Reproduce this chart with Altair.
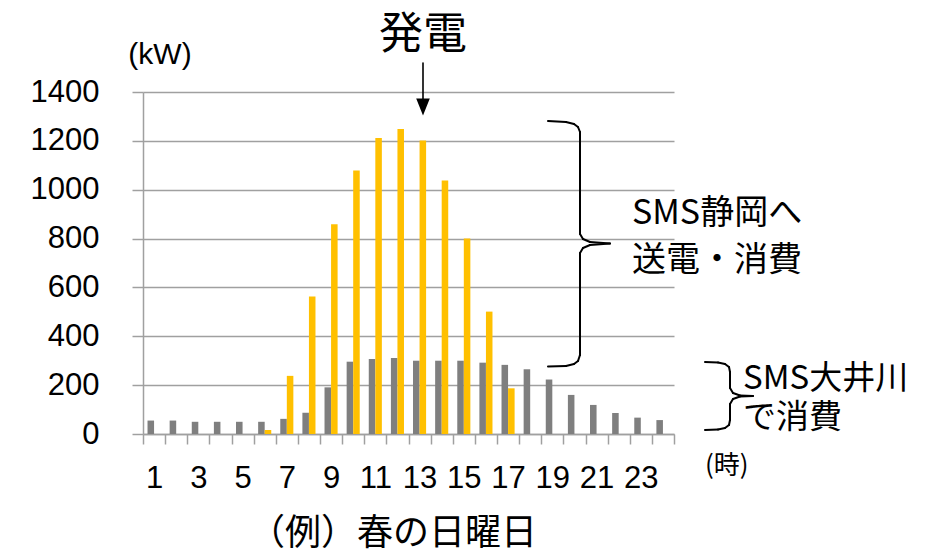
import altair as alt
import pandas as pd

# ---- data ----
hours = list(range(1, 25))
oigawa_kw = [55, 55, 50, 50, 50, 50, 62, 87, 191, 296, 307, 311, 300, 300, 300, 292, 283, 265, 223, 160, 119, 86, 67, 57]
generation_kw = [0, 0, 0, 0, 0, 16, 238, 563, 859, 1079, 1212, 1249, 1201, 1038, 800, 501, 187, 0, 0, 0, 0, 0, 0, 0]
series_names = ["SMS大井川で消費", "発電"]
series_colors = ["#7F7F7F", "#FFC000"]
y_ticks = [0, 200, 400, 600, 800, 1000, 1200, 1400]

unit_label = "(kW)"
gen_label = "発電"
brace1_lines = ["SMS静岡へ", "送電・消費"]
brace2_lines = ["SMS大井川", "で消費"]
hour_unit = "(時)"
caption = "（例）春の日曜日"

rows = []
for h, c, g in zip(hours, oigawa_kw, generation_kw):
    rows.append({"hour": h, "series": series_names[0], "kw": c})
    rows.append({"hour": h, "series": series_names[1], "kw": g})
df = pd.DataFrame(rows)

# plot origin in page pixels (for annotations)
OX, OY = 143, 92
W, H = 531, 342
GRID = "#a0a0a0"

bars = alt.Chart(df).mark_bar().encode(
    x=alt.X("hour:O", sort=hours,
            scale=alt.Scale(paddingInner=0, paddingOuter=0),
            axis=alt.Axis(title=None, labelAngle=0, labelFontSize=31, labelFont="Liberation Sans",
                          labelColor="black", labelPadding=19, tickSize=10, tickBand="extent",
                          tickColor=GRID, tickWidth=1.5, domainColor=GRID, domainWidth=1.5,
                          labelOverlap=False, grid=False,
                          labelExpr="datum.value % 2 == 1 ? datum.label : ''")),
    xOffset=alt.XOffset("series:N", sort=series_names,
                        scale=alt.Scale(domain=series_names, paddingInner=0, paddingOuter=0.69)),
    y=alt.Y("kw:Q", scale=alt.Scale(domain=[0, 1400], nice=False),
            axis=alt.Axis(title=None, values=y_ticks, format="d", labelFontSize=31,
                          labelFont="Liberation Sans",
                          labelColor="black", labelPadding=33, tickSize=11, tickColor=GRID,
                          tickWidth=1.5, domainColor=GRID, domainWidth=1.5, grid=True,
                          gridColor=GRID, gridWidth=1.5)),
    color=alt.Color("series:N", scale=alt.Scale(domain=series_names, range=series_colors), legend=None),
)

anchor = pd.DataFrame({"a": [0]})


def text_layer(txt, x, y, size, font="Noto Sans CJK JP", align="center"):
    return alt.Chart(pd.DataFrame({"t": [txt]})).mark_text(
        font=font, fontSize=size, align=align, baseline="middle", color="black"
    ).encode(x=alt.value(x - OX), y=alt.value(y - OY), text="t:N")


def polyline(points, width=2.0):
    out = []
    for (x1, y1), (x2, y2) in zip(points[:-1], points[1:]):
        out.append(alt.Chart(anchor).mark_rule(color="black", strokeWidth=width, strokeCap="round").encode(
            x=alt.value(x1 - OX), y=alt.value(y1 - OY), x2=alt.value(x2 - OX), y2=alt.value(y2 - OY)))
    return out


layers = [bars]
layers.append(text_layer(unit_label, 160, 55, 30, font="Liberation Sans"))
layers.append(text_layer(gen_label, 423, 36, 44))
layers.append(text_layer(brace1_lines[0], 632, 214, 34, align="left"))
layers.append(text_layer(brace1_lines[1], 632, 261, 34, align="left"))
layers.append(text_layer(brace2_lines[0], 743, 379, 33, align="left"))
layers.append(text_layer(brace2_lines[1], 743, 418, 33, align="left"))
layers.append(text_layer(hour_unit, 705, 466, 26, align="left"))
layers.append(text_layer(caption, 393, 534, 36))

# arrow
layers += polyline([(423, 63), (423, 100)], width=1.6)
layers.append(alt.Chart(anchor).mark_point(
    shape="M-0.8,-1L0.8,-1L0,1Z", filled=True, color="black", opacity=1, size=289
).encode(x=alt.value(423 - OX), y=alt.value(107 - OY)))

# big brace
big = [(548, 121), (566, 122), (574, 124), (578, 127), (580, 132), (580, 234), (583, 239),
       (590, 242), (610, 243.5), (590, 245), (583, 248), (580, 253), (580, 355), (578, 361),
       (574, 364), (566, 366), (548, 366.5)]
layers += polyline(big)
# small brace
small = [(705, 362), (718, 362.5), (725, 364), (729, 367), (730, 372), (730, 388), (733, 393),
         (740, 395.5), (753, 396), (740, 396.5), (733, 399), (730, 404), (730, 420), (729, 425),
         (725, 428), (718, 429.5), (705, 430)]
layers += polyline(small)

chart = alt.layer(*layers).properties(
    width=W, height=H,
    autosize=alt.AutoSizeParams(type="none"),
    padding={"left": OX - 8, "top": OY - 8, "right": 255, "bottom": 117},
    background="white",
).configure_view(stroke=None)

chart.save("out.html", embed_options={"renderer": "svg", "actions": False})
